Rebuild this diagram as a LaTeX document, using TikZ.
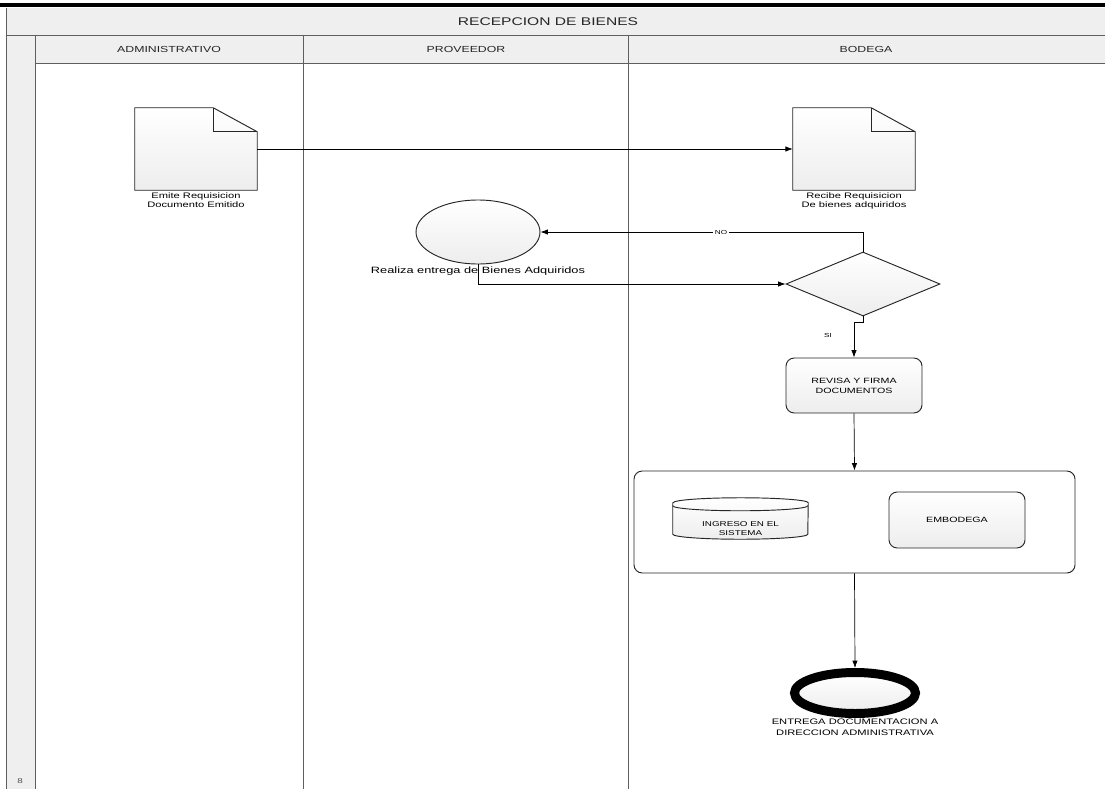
\documentclass[tikz,border=0pt]{standalone}
\usepackage{fontspec}
\setmainfont[FakeStretch=1.4]{Liberation Sans}
\usetikzlibrary{arrows.meta,positioning,shapes.geometric,calc}
\definecolor{laneline}{HTML}{5E5E5E}
\definecolor{laneband}{HTML}{EFEFEF}

\tikzset{
  flow/.style={-{Latex[length=2.2mm,width=1.6mm]},black,line width=0.6pt},
  shapeline/.style={draw=black!85,line width=0.8pt,top color=white,bottom color=gray!14},
  txt/.style={font=\fontsize{6.8}{7.8}\selectfont,align=center,inner sep=1pt},
  docbox/.style={minimum width=3.66cm,minimum height=2.46cm,inner sep=0pt},
  actshape/.style={ellipse,shapeline,minimum width=3.72cm,minimum height=1.92cm,inner sep=0pt},
  decision/.style={diamond,shapeline,minimum width=4.62cm,minimum height=1.92cm,inner sep=0pt},
  stepbox/.style={rectangle,rounded corners=7pt,shapeline,minimum width=4.08cm,minimum height=1.65cm,
    align=center,font=\fontsize{6.5}{8.5}\selectfont},
  groupbox/.style={rectangle,rounded corners=7pt,draw=black!85,line width=0.8pt,fill=white,
    minimum width=13.23cm,minimum height=3.06cm},
  cylbox/.style={minimum width=4.05cm,minimum height=0.93cm,inner sep=0pt,align=center,
    font=\fontsize{6}{7.5}\selectfont},
  endshape/.style={ellipse,draw=black,line width=0.27cm,top color=white,bottom color=gray!14,
    minimum width=3.63cm,minimum height=1.23cm,inner sep=0pt},
  lanehead/.style={font=\fontsize{7.5}{9}\selectfont,text=black!85}
}

\begin{document}
\begin{tikzpicture}[x=0.03cm,y=-0.03cm]
  \useasboundingbox (0,0) rectangle (1105,789);
  \fill[white] (0,0) rectangle (1105,789);
  % pool and lanes
  \fill[laneband] (6,8) rectangle (1105,35);
  \fill[laneband] (35,35) rectangle (1105,63);
  \fill[laneband] (6,35) rectangle (35,789);
  \draw[black,line width=0.12cm] (0,5) -- (1105,5);
  \draw[laneline,line width=0.6pt] (6,8) -- (6,789);
  \draw[laneline,line width=0.6pt] (6,35) -- (1105,35);
  \draw[laneline,line width=0.6pt] (35,63) -- (1105,63);
  \foreach \lx in {35,303,628}
    \draw[laneline,line width=0.6pt] (\lx,35) -- (\lx,789);
  \node[font=\fontsize{9.5}{11}\selectfont,text=black!85] (title) at (548,22) {RECEPCION DE BIENES};
  \node[lanehead] (hAdm) at (169,49) {ADMINISTRATIVO};
  \node[lanehead] (hPro) at (466,49) {PROVEEDOR};
  \node[lanehead] (hBod) at (866,49) {BODEGA};
  \node[font=\fontsize{6}{7}\selectfont,text=black!70] (poolnum) at (20,781) {8};

  % documents
  \node[docbox] (docAdm) at (196,149) {};
  \node[docbox] (docBod) at (854,149) {};
  \foreach \d in {docAdm,docBod}{
    \draw[shapeline] (\d.south west) -- (\d.north west) -- ($(\d.north east)+(-44,0)$)
      -- ($(\d.north east)+(0,24)$) -- (\d.south east) -- cycle;
    \draw[black!85,line width=0.8pt] ($(\d.north east)+(-44,0)$) |- ($(\d.north east)+(0,24)$);
  }
  \node[txt,below=1pt of docAdm] (lblAdm) {Emite Requisicion\\Documento Emitido};
  \node[txt,below=1pt of docBod] (lblBod) {Recibe Requisicion\\De bienes adquiridos};

  % proveedor
  \node[actshape] (entrega) at (478,232) {};
  \node[txt,font=\fontsize{7.8}{9}\selectfont,below=1pt of entrega] (lblEntrega) {Realiza entrega de Bienes Adquiridos};

  % bodega
  \node[decision] (verifica) at (863,284) {};
  \node[stepbox] (firma) at (854,385.5) {REVISA Y FIRMA\\DOCUMENTOS};
  \node[groupbox] (grupo) at (854.5,522) {};
  \node[cylbox] (ingreso) at (740.5,518.5) {};
  \draw[shapeline] (ingreso.north west) -- (ingreso.south west)
    arc[start angle=180,end angle=360,x radius=2.025cm,y radius=0.15cm]
    -- (ingreso.north east)
    arc[start angle=0,end angle=180,x radius=2.025cm,y radius=0.15cm] -- cycle;
  \draw[black!85,line width=0.8pt] ($(ingreso.north west)+(0,3)$)
    arc[start angle=180,end angle=360,x radius=2.025cm,y radius=0.15cm];
  \node[cylbox] (ingresoTxt) at ($(ingreso.center)+(0,10)$) {INGRESO EN EL\\SISTEMA};
  \node[stepbox,minimum height=1.68cm] (embodega) at (957,520) {EMBODEGA};
  \node[endshape] (fin) at (855,693) {};
  \node[txt,font=\fontsize{6.8}{9.4}\selectfont,below=0pt of fin] (lblFin) {ENTREGA DOCUMENTACION A\\DIRECCION ADMINISTRATIVA};

  % connectors
  \draw[flow] (docAdm.east) -- (docBod.west);
  \draw[flow] (verifica.north) |- (entrega.east)
    node[pos=0.72,fill=white,inner sep=1.5pt,font=\fontsize{5}{6}\selectfont] (no) {NO};
  \draw[flow] (entrega.south) |- (verifica.west);
  \draw[flow] (verifica.south) -- ++(0,6) -| (firma.north);
  \node[font=\fontsize{5}{6}\selectfont] (si) at (828,335) {SI};
  \draw[flow] (firma.south) -- (grupo.north);
  \draw[flow] (grupo.south) -- (fin.north);
\end{tikzpicture}
\end{document}
